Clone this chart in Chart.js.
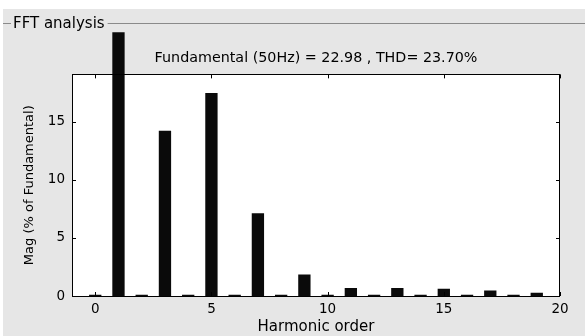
<!DOCTYPE html>
<html><head><meta charset="utf-8">
<script src="https://cdn.jsdelivr.net/npm/chart.js@4"></script>
<style>html,body{margin:0;padding:0;background:#fff;overflow:hidden}#wrap{width:585px;height:336px;position:relative}</style>
</head><body><div id="wrap"><canvas id="c" width="585" height="336"></canvas></div>
<script>
const harmonicOrders = [0,1,2,3,4,5,6,7,8,9,10,11,12,13,14,15,16,17,18,19];
const magnitudes = [0.1,100,0.1,14.23,0.1,17.49,0.1,7.14,0.1,1.85,0.1,0.70,0.1,0.70,0.1,0.62,0.1,0.47,0.1,0.27];
const xTickValues = [0,5,10,15,20];
const yTickValues = [0,5,10,15];
const xRange = [-1, 20];
const yRange = [0, 19.1];
const titleText = 'Fundamental (50Hz) = 22.98 , THD= 23.70%';
const panelTitle = 'FFT analysis';
const xAxisTitle = 'Harmonic order';
const yAxisTitle = 'Mag (% of Fundamental)';

const FONT = 'DejaVu Sans';
const GRAY = '#e6e6e6';

const panelPlugin = {
  id: 'panel',
  beforeDraw(chart) {
    const ctx = chart.ctx;
    ctx.save();
    ctx.fillStyle = '#ffffff';
    ctx.fillRect(0, 0, chart.width, chart.height);
    ctx.fillStyle = GRAY;
    ctx.fillRect(3, 9, chart.width - 3, chart.height - 9);
    ctx.font = '15px "' + FONT + '"';
    ctx.textBaseline = 'alphabetic';
    ctx.fillStyle = '#000';
    const tx = 13, w = ctx.measureText(panelTitle).width;
    ctx.fillText(panelTitle, tx, 27.5);
    ctx.strokeStyle = '#8a8a8a';
    ctx.lineWidth = 1;
    ctx.beginPath();
    ctx.moveTo(3, 23.5); ctx.lineTo(tx - 2, 23.5);
    ctx.moveTo(tx + w + 3, 23.5); ctx.lineTo(chart.width, 23.5);
    ctx.stroke();
    ctx.restore();
  }
};

const boxPlugin = {
  id: 'box',
  beforeDatasetsDraw(chart) {
    const {ctx, chartArea: a} = chart;
    ctx.save();
    ctx.fillStyle = '#ffffff';
    ctx.fillRect(a.left, a.top, a.right - a.left, a.bottom - a.top);
    ctx.restore();
  },
  afterDatasetsDraw(chart) {
    const {ctx, chartArea: a, scales} = chart;
    ctx.save();
    ctx.strokeStyle = '#000';
    ctx.lineWidth = 1;
    ctx.strokeRect(Math.round(a.left) + 0.5, Math.round(a.top) + 0.5, Math.round(a.right - a.left) - 1, Math.round(a.bottom - a.top));
    ctx.beginPath();
    const L = 4;
    xTickValues.forEach(v => {
      const px = Math.round(scales.x.getPixelForValue(v)) + 0.5;
      ctx.moveTo(px, a.bottom); ctx.lineTo(px, a.bottom - L);
      ctx.moveTo(px, a.top); ctx.lineTo(px, a.top + L);
    });
    yTickValues.forEach(v => {
      const py = Math.round(scales.y.getPixelForValue(v)) + 0.5;
      ctx.moveTo(a.left, py); ctx.lineTo(a.left + L, py);
      ctx.moveTo(a.right, py); ctx.lineTo(a.right - L, py);
    });
    ctx.stroke();
    ctx.restore();
  }
};

new Chart(document.getElementById('c'), {
  type: 'bar',
  data: {
    datasets: [{
      data: harmonicOrders.map((h, i) => ({x: h, y: magnitudes[i]})),
      backgroundColor: '#0a0a0a',
      borderWidth: 0,
      categoryPercentage: 1,
      barPercentage: 0.53,
      clip: {left: 0, top: 42, right: 0, bottom: 0}
    }]
  },
  options: {
    responsive: false,
    devicePixelRatio: 1,
    animation: false,
    layout: {padding: {left: 0, right: 25, top: 0, bottom: 0}},
    plugins: {
      legend: {display: false},
      tooltip: {enabled: false},
      title: {
        display: true,
        text: titleText,
        fullSize: false,
        color: '#000',
        font: {family: FONT, size: 14.3, weight: 'normal', lineHeight: 1.2},
        padding: {top: 49.6, bottom: 7.6}
      }
    },
    scales: {
      x: {
        type: 'linear',
        offset: false,
        min: xRange[0], max: xRange[1],
        afterBuildTicks: s => { s.ticks = xTickValues.map(v => ({value: v})); },
        afterFit: s => { s.height = 40; },
        grid: {display: false, drawTicks: false, offset: false},
        border: {display: false},
        ticks: {color: '#000', padding: 5, font: {family: FONT, size: 13.5}, maxRotation: 0},
        title: {display: true, text: xAxisTitle, color: '#000', font: {family: FONT, size: 15}, padding: {top: 0, bottom: 0}}
      },
      y: {
        type: 'linear',
        min: yRange[0], max: yRange[1],
        afterBuildTicks: s => { s.ticks = yTickValues.map(v => ({value: v})); },
        afterFit: s => { s.width = 72; },
        grid: {display: false, drawTicks: false},
        border: {display: false},
        ticks: {color: '#000', padding: 7, font: {family: FONT, size: 13.5}},
        title: {display: true, text: yAxisTitle, color: '#000', font: {family: FONT, size: 13}, padding: {top: 22, bottom: 0}}
      }
    }
  },
  plugins: [panelPlugin, boxPlugin]
});
</script></body></html>
